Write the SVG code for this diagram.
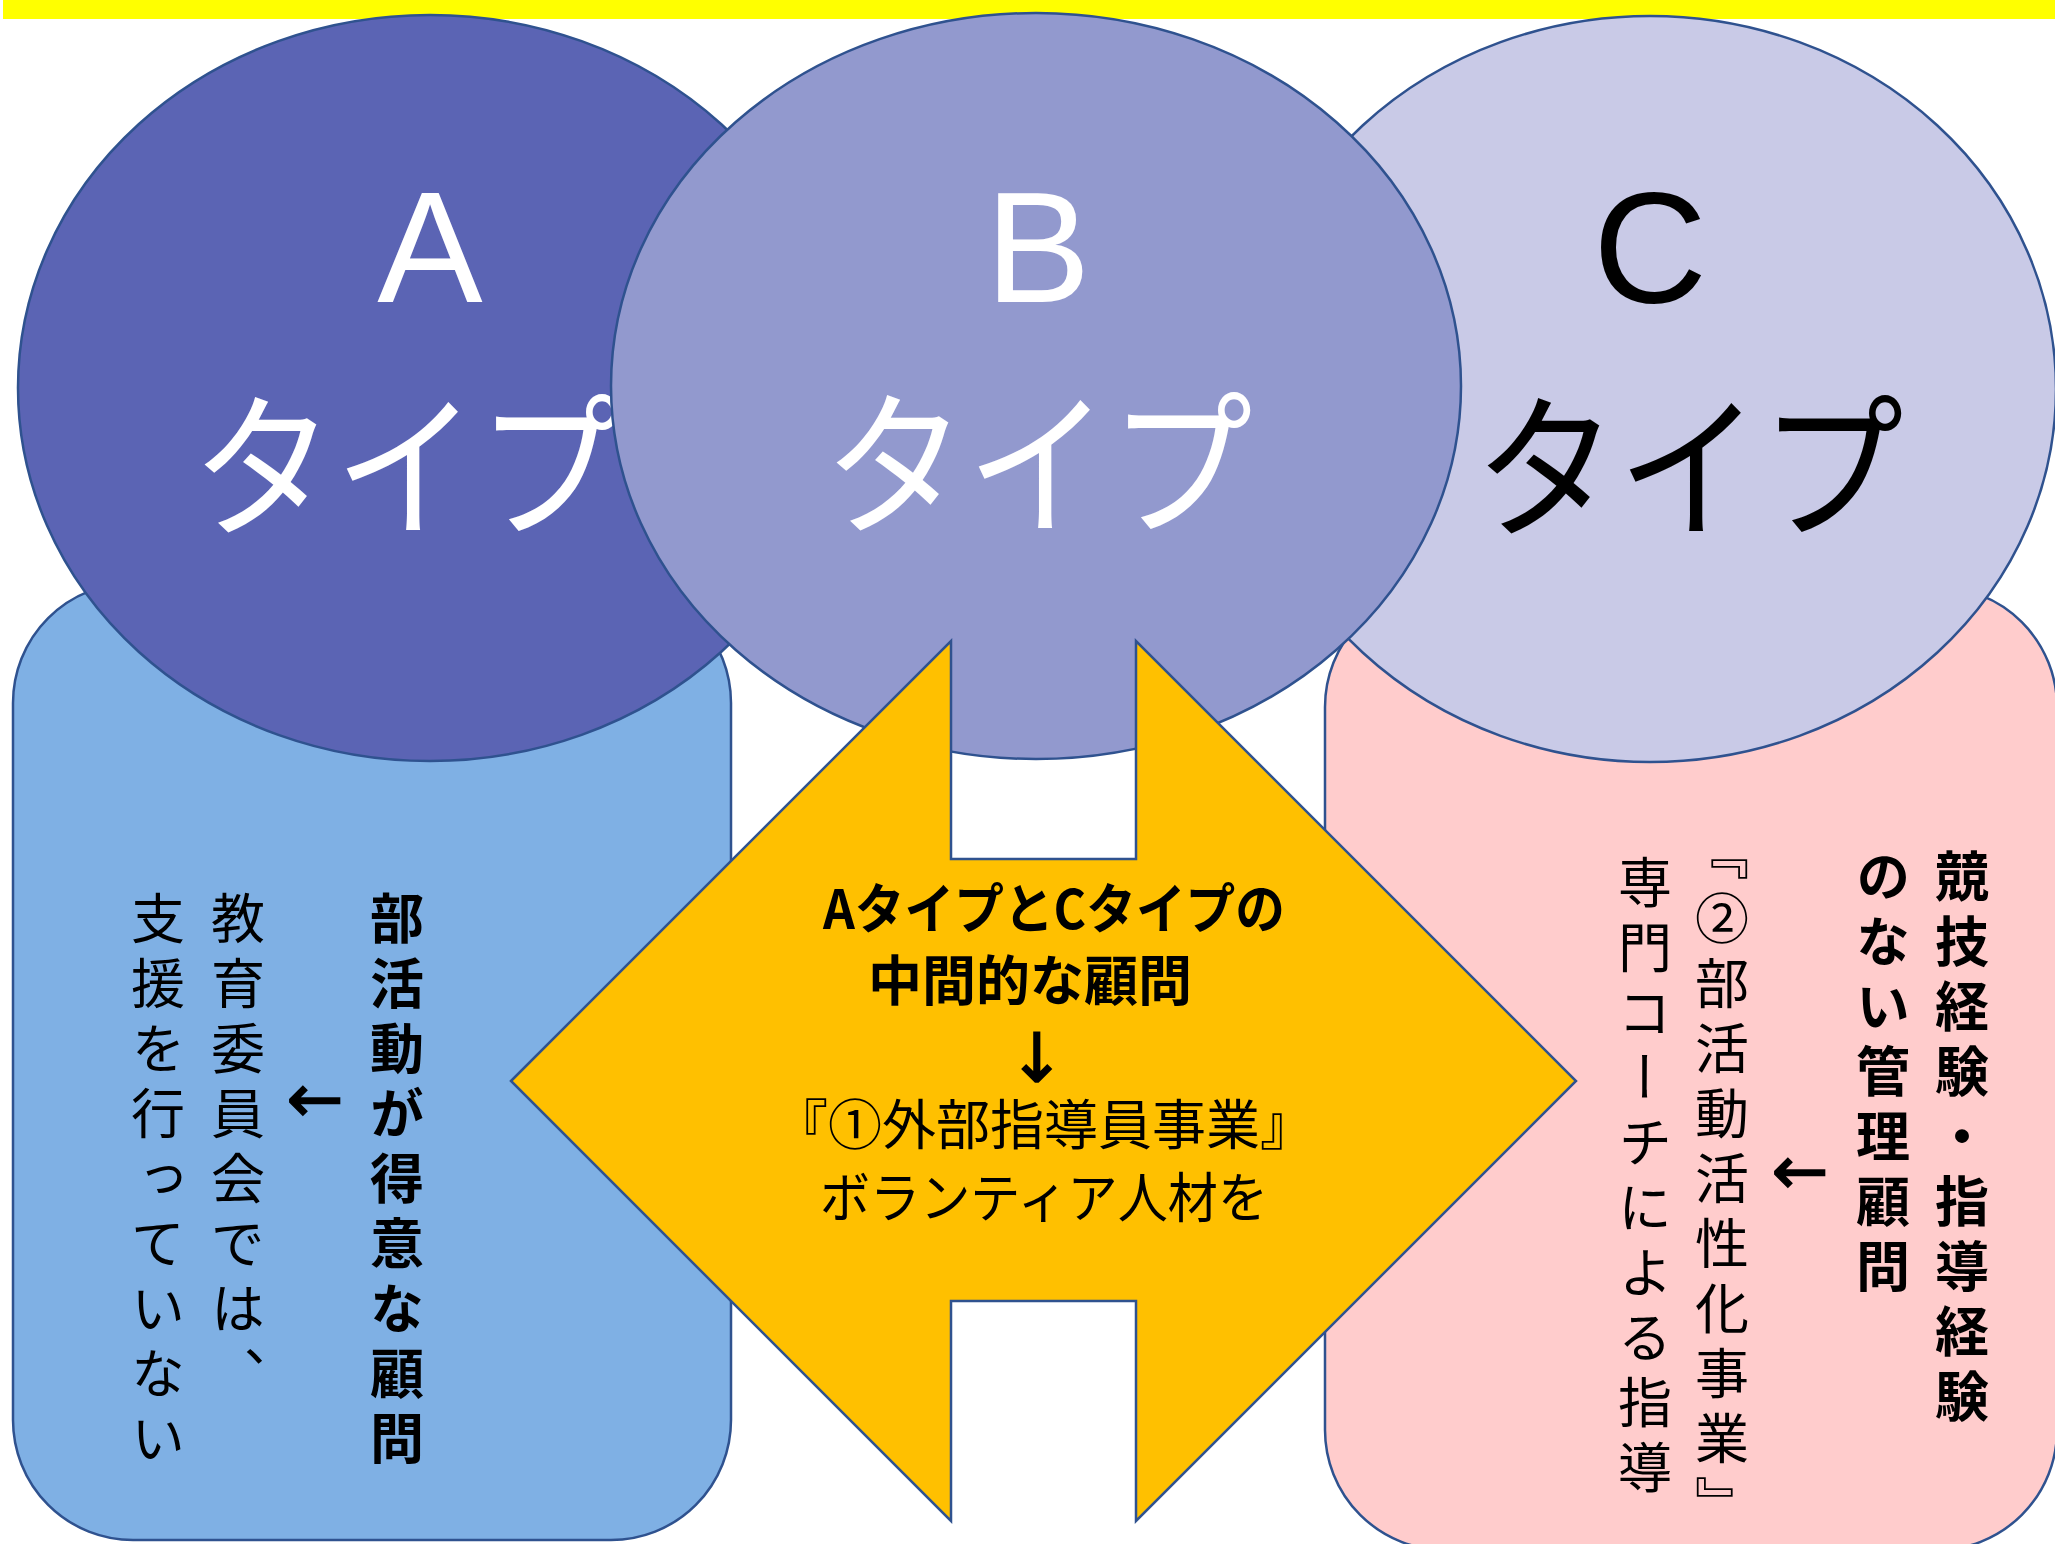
<svg xmlns="http://www.w3.org/2000/svg" width="2055" height="1544" viewBox="0 0 2055 1544">
<style>
.edge{stroke:#2F528F;stroke-width:2.5}
.big{font-family:"Liberation Sans",Arial,sans-serif;font-size:158px;text-anchor:middle}
.kata{font-family:"Noto Sans CJK JP",sans-serif;font-size:143px;text-anchor:middle}
.w{fill:#FFFFFF}
.k{fill:#000000}
.vt{font-family:"Noto Sans CJK JP",sans-serif;font-size:54px;writing-mode:vertical-rl;letter-spacing:11px;fill:#000}
.vb{font-weight:bold}
.ht{font-family:"Noto Sans CJK JP",sans-serif;font-size:54px;text-anchor:middle;fill:#000}
.arr{font-family:"DejaVu Sans","Noto Sans CJK JP",sans-serif;font-size:68px;text-anchor:middle;fill:#000;stroke:#000;stroke-width:1.5}
</style>
<rect x="3" y="0" width="2052" height="19" fill="#FFFF00"/>
<g id="boxA">
<rect class="edge" x="13" y="583" width="718" height="957" rx="120" ry="120" fill="#7FB0E4"/>
</g>
<g id="boxC">
<rect class="edge" x="1325" y="587" width="732" height="963" rx="120" ry="120" fill="#FFCCCC"/>
</g>
<g id="typeA">
<ellipse class="edge" cx="430" cy="388" rx="412" ry="373" fill="#5B64B4"/>
<text class="big w" x="430" y="302">A</text>
<text class="kata w" transform="translate(406,525) scale(1,1.1)">タイプ</text>
</g>
<g id="typeC">
<ellipse class="edge" cx="1650" cy="389" rx="406" ry="373" fill="#C9CAE7"/>
<text class="big k" x="1650" y="302">C</text>
<text class="kata k" transform="translate(1689,526) scale(1,1.1)">タイプ</text>
</g>
<g id="typeB">
<ellipse class="edge" cx="1036" cy="386" rx="425" ry="373" fill="#9299CE"/>
<text class="big w" x="1038" y="302">B</text>
<text class="kata w" transform="translate(1038,523) scale(1,1.1)">タイプ</text>
</g>
<g id="connectors">
<polygon class="edge" points="511,1081 951,641 951,859 1136,859 1136,641 1576,1081 1136,1521 1136,1301 951,1301 951,1521" fill="#FFC000" stroke-linejoin="miter"/>
</g>
<g id="middleText">
<text class="ht" x="1054" y="929" font-weight="bold" font-size="52" textLength="462" lengthAdjust="spacingAndGlyphs">AタイプとCタイプの</text>
<text class="ht" x="1030" y="1001" font-weight="bold">中間的な顧問</text>
<text class="arr" x="1037" y="1082">↓</text>
<text class="ht" x="1044" y="1145">『①外部指導員事業』</text>
<text class="ht" x="1044" y="1218" textLength="448" lengthAdjust="spacingAndGlyphs">ボランティア人材を</text>
</g>
<g id="textA">
<text class="vt vb" x="397" y="891">部活動が得意な顧問</text>
<text class="arr" x="315" y="1122">←</text>
<text class="vt" x="238" y="891">教育委員会では、</text>
<text class="vt" x="158" y="891">支援を行っていない</text>
</g>
<g id="textC">
<text class="vt vb" x="1962" y="849">競技経験・指導経験</text>
<text class="vt vb" x="1883" y="849">のない管理顧問</text>
<text class="arr" x="1800" y="1194">←</text>
<text class="vt" x="1722" y="826">『②部活動活性化事業』</text>
<text class="vt" x="1645" y="855">専門コーチによる指導</text>
</g>
</svg>
